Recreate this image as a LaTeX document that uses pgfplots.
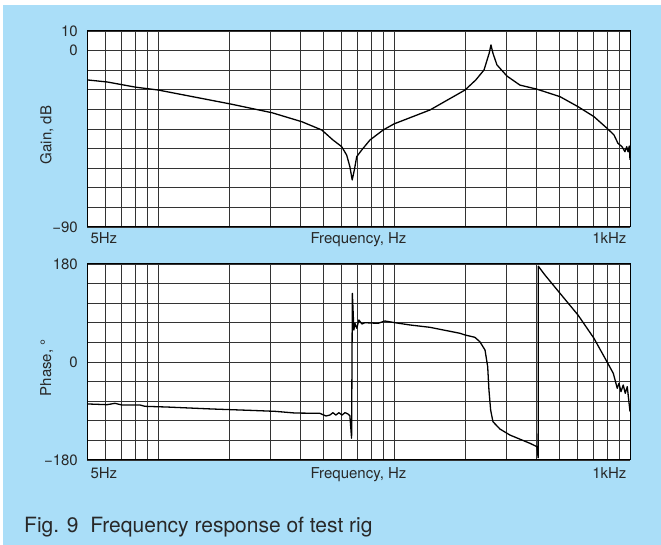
\documentclass[border=0pt]{standalone}
\usepackage{pgfplots}
\pgfplotsset{compat=1.18}
\usepackage{fontspec}
\setmainfont{TeX Gyre Heros}
\definecolor{bgblue}{RGB}{170,222,248}
\definecolor{txt}{RGB}{40,40,40}
\newcommand{\lbl}{\fontsize{15bp}{17bp}\selectfont}

\pgfplotsset{
  bode/.style={
    xmin=5, xmax=1000,
    scale only axis, width=543bp, height=196bp,
    anchor=south west,
    clip mode=individual,
    axis background/.style={fill=white},
    axis line style={black, line width=1bp},
    xtick={6,7,8,9,10,20,30,40,50,60,70,80,90,100,200,300,400,500,600,700,800,900},
    xticklabels={},
    major tick length=0pt,
    grid=major,
    major grid style={black!80, line width=0.9bp},
    yticklabel style={font=\lbl, text=txt, inner sep=0pt, xshift=-9bp},
    ylabel style={font=\lbl, text=txt, at={(axis description cs:-0.074,0.47)}, anchor=center},
  },
  curve/.style={black, line width=1.3bp, line join=round, mark=none},
}

\begin{document}
\begin{tikzpicture}
\fill[white] (0,0) rectangle (661bp,545bp);
\fill[bgblue] (3bp,0) rectangle (661bp,540bp);

% gain
\begin{axis}[xmode=log, bode, at={(87bp,318bp)},
    ymin=-90, ymax=10,
    ytick={-90,-80,...,10},
    yticklabels={−90,,,,,,,,,0,10},
    ylabel={Gain, dB}]
  \addplot[curve] coordinates {
    (5.05,-15) (6.08,-16) (8.07,-18.7) (10,-20.1) (20.2,-27.2) (30.4,-31.7)
    (40.7,-36.3) (49.4,-40.5) (55.1,-45.6) (60,-49) (63,-53.3) (65,-59.2)
    (66.5,-66) (67.9,-60.9) (69.5,-54.1) (73,-50.7) (79.1,-45.6) (90,-40.5)
    (100,-37.4) (142,-30.3) (200,-20.1) (222,-15) (240.6,-9.9) (253,-1.4)
    (257.5,2.9) (262.6,-1.4) (273,-7.3) (301,-13) (341.7,-17.6) (403.6,-19.7)
    (505,-23.5) (602,-28.6) (703.5,-33.7) (798.6,-39.6) (855,-43) (889,-47.3)
    (924.5,-49) (952,-51.6) (968,-49) (980.6,-51.6) (993,-48.7) (1000,-55.8)
  };
  \node[font=\lbl, text=txt, anchor=base west, yshift=-16.5bp] at (rel axis cs:0,0) {5Hz};
  \node[font=\lbl, text=txt, anchor=base, yshift=-16.5bp] at (rel axis cs:0.5,0) {Frequency, Hz};
  \node[font=\lbl, text=txt, anchor=base east, yshift=-16.5bp] at (rel axis cs:1,0) {1kHz};
\end{axis}

% phase
\begin{axis}[xmode=log, bode, at={(87bp,85bp)},
    ymin=-180, ymax=180,
    ytick={-180,-144,...,180},
    yticklabels={−180,,,,,0,,,,,180},
    ylabel={Phase, °}]
  \addplot[curve] coordinates {
    (5.05,-77.1) (6.08,-78.4) (6.57,-75.9) (7.03,-79) (8.39,-79) (8.8,-81.4)
    (10.9,-82.7) (16.9,-86.3) (24.5,-88.8) (31.3,-90.6) (38,-93.7) (48.5,-94.3)
    (51.5,-99.2) (53.5,-97.4) (55.1,-93.1) (56.7,-97.4) (58.4,-93.1) (60.2,-97.4)
    (62,-93) (63.8,-95.5) (65,-98.6) (66.1,-140) (66.6,126) (67.6,58.8)
    (68.3,71) (69.5,62) (71,77.1) (73.1,69.8) (75.3,72.2) (85.5,71) (91.5,75.3)
    (100.9,72.2) (116.9,68) (142,63.7) (190.4,52.7) (200,49.6) (220,45.4)
    (231,37.3) (243,22) (249.4,-8.6) (252.5,-51.4) (256.7,-88.2) (262.6,-109.7)
    (281,-123.1) (310,-134.2) (377,-149.4) (403.6,-155.6) (408,-176) (408.6,176)
    (436,159.8) (505,126.2) (602,86.3) (703.5,43.5) (798.6,0.5) (849.5,-20.8)
    (883,-48.3) (898,-39.2) (915.7,-54.5) (936,-42.2) (954.7,-57.5) (973.5,-45.3)
    (1000,-91)
  };
  \node[font=\lbl, text=txt, anchor=base west, yshift=-18.5bp] at (rel axis cs:0,0) {5Hz};
  \node[font=\lbl, text=txt, anchor=base, yshift=-19bp] at (rel axis cs:0.5,0) {Frequency, Hz};
  \node[font=\lbl, text=txt, anchor=base east, yshift=-18.5bp] at (rel axis cs:1,0) {1kHz};
\end{axis}

\node[font=\fontsize{21bp}{24bp}\selectfont, text=txt, anchor=base west] at (20.7bp,12.3bp)
  {Fig. 9\ \ Frequency response of test rig};
\end{tikzpicture}
\end{document}
